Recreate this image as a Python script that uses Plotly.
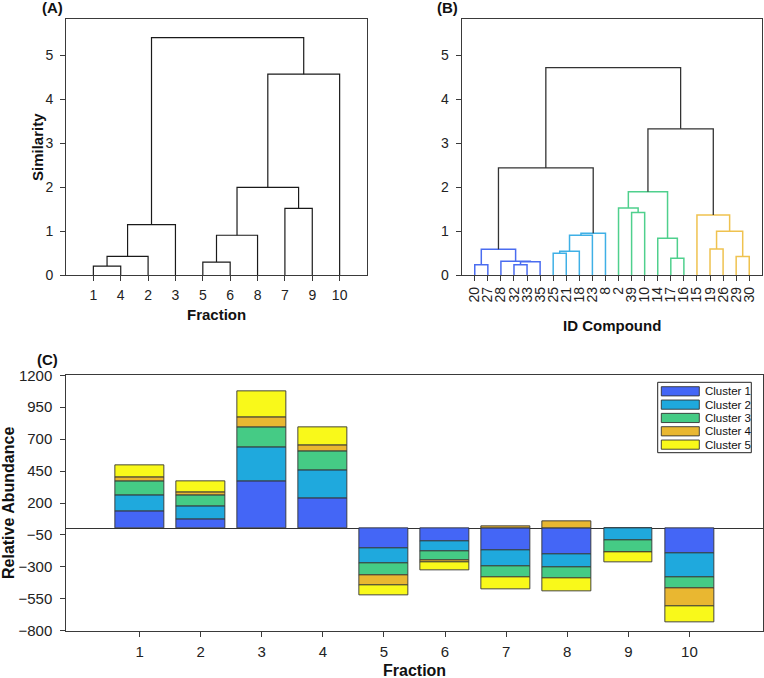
import plotly.graph_objects as go

# ---------------- DATA ----------------
# Panel A: dendrogram of fractions
A_leaf_order = ["1", "4", "2", "3", "5", "6", "8", "7", "9", "10"]
A_merges = [
    ("1", "4", 0.21),     # m0
    ("m0", "2", 0.43),    # m1
    ("m1", "3", 1.15),    # m2
    ("5", "6", 0.30),     # m3
    ("m3", "8", 0.91),    # m4
    ("7", "9", 1.52),     # m5
    ("m4", "m5", 2.00),   # m6
    ("m6", "10", 4.57),   # m7
    ("m2", "m7", 5.40),   # m8
]

# Panel B: dendrogram of compounds
B_leaf_order = ["20", "27", "28", "32", "33", "35", "25", "21", "18", "23", "8",
                "2", "39", "10", "14", "17", "16", "15", "19", "26", "29", "30"]
B_merges = [
    ("20", "27", 0.24),    # m0
    ("32", "33", 0.24),    # m1
    ("m1", "35", 0.31),    # m2
    ("28", "m2", 0.32),    # m3
    ("m0", "m3", 0.59),    # m4
    ("25", "21", 0.50),    # m5
    ("m5", "18", 0.545),   # m6
    ("m6", "23", 0.91),    # m7
    ("m7", "8", 0.955),    # m8
    ("m4", "m8", 2.44),    # m9
    ("39", "10", 1.43),    # m10
    ("2", "m10", 1.53),    # m11
    ("17", "16", 0.385),   # m12
    ("14", "m12", 0.84),   # m13
    ("m11", "m13", 1.90),  # m14
    ("19", "26", 0.60),    # m15
    ("29", "30", 0.43),    # m16
    ("m15", "m16", 1.00),  # m17
    ("15", "m17", 1.37),   # m18
    ("m14", "m18", 3.33),  # m19
    ("m9", "m19", 4.72),   # m20
]
B_merge_group = [1, 1, 1, 1, 1, 2, 2, 2, 2, 0, 3, 3, 3, 3, 3, 4, 4, 4, 4, 0, 0]

# Panel C: stacked relative abundance
fractions = [1, 2, 3, 4, 5, 6, 7, 8, 9, 10]
cluster_names = ["Cluster 1", "Cluster 2", "Cluster 3", "Cluster 4", "Cluster 5"]
cluster1 = [133, 76, 368, 238, -157, -102, -172, -198, 0, -191]
cluster2 = [125, 96, 266, 216, -117, -78, -126, -107, -89, -188]
cluster3 = [110, 86, 160, 152, -89, -68, -86, -87, -96, -91]
cluster4 = [37, 29, 75, 42, -78, -18, 21, 55, -4, -141]
cluster5 = [91, 81, 207, 148, -84, -60, -94, -96, -76, -120]

A_tick_vals = [0, 1, 2, 3, 4, 5]
C_tick_vals = [-800, -550, -300, -50, 200, 450, 700, 950, 1200]

# ---------------- STYLE ----------------
W, H = 764, 678
FONT = "Liberation Sans, Arial, sans-serif"
bar_colors = ["#4466f6", "#1fa9dd", "#45cb85", "#e9b731", "#f9f91a"]
dendro_colors = {0: "#333333", 1: "#4a6cf0", 2: "#3fb0e6", 3: "#4fd08d", 4: "#efc24f"}
AXC = "#3a3a3a"


def px(x):
    return x / W


def py(y):
    return 1 - y / H


def dendro_segments(leaf_order, merges):
    pos = {lab: i + 1 for i, lab in enumerate(leaf_order)}
    hgt = {lab: 0.0 for lab in leaf_order}
    segs = []
    for k, (a, b, h) in enumerate(merges):
        xa, xb = pos[a], pos[b]
        segs.append(([xa, xa, xb, xb], [hgt[a], h, h, hgt[b]]))
        pos["m%d" % k] = (xa + xb) / 2
        hgt["m%d" % k] = h
    return segs


fig = go.Figure()

# Panel A
for xs, ys in dendro_segments(A_leaf_order, A_merges):
    fig.add_trace(go.Scatter(x=xs, y=ys, mode="lines", xaxis="x", yaxis="y",
                             line=dict(color="#1a1a1a", width=1.2),
                             showlegend=False, hoverinfo="skip"))

# Panel B
for (xs, ys), g in zip(dendro_segments(B_leaf_order, B_merges), B_merge_group):
    fig.add_trace(go.Scatter(x=xs, y=ys, mode="lines", xaxis="x2", yaxis="y2",
                             line=dict(color=dendro_colors[g], width=1.5 if g else 1.3),
                             showlegend=False, hoverinfo="skip"))

# Panel C
for name, vals, col in zip(cluster_names, [cluster1, cluster2, cluster3, cluster4, cluster5], bar_colors):
    fig.add_trace(go.Bar(x=fractions, y=vals, name=name, xaxis="x3", yaxis="y3",
                         width=0.8, marker=dict(color=col, line=dict(color="#333333", width=0.9)),
                         showlegend=False))

tickfont_ab = dict(family=FONT, size=14, color="#222")
tickfont_c = dict(family=FONT, size=15, color="#222")
common = dict(showgrid=False, zeroline=False, showline=True, linecolor=AXC, linewidth=1,
              mirror=True, ticks="outside", ticklen=5, tickcolor=AXC, tickwidth=1,
              automargin=False)

yA_top = 5.825
fig.update_layout(
    width=W, height=H, margin=dict(l=0, r=0, t=0, b=0, pad=0), autosize=False,
    paper_bgcolor="white", plot_bgcolor="white",
    barmode="relative", bargap=0,
    font=dict(family=FONT, color="#222"),
    xaxis=dict(domain=[px(66), px(367)], anchor="y", range=[0, 11],
               tickvals=list(range(1, len(A_leaf_order) + 1)), ticktext=A_leaf_order,
               tickfont=tickfont_ab, ticklabelstandoff=2, **common),
    yaxis=dict(domain=[py(275.3), py(19)], anchor="x", range=[0, yA_top],
               tickvals=A_tick_vals, tickfont=tickfont_ab, ticklabelstandoff=4, **common),
    xaxis2=dict(domain=[px(461.7), px(762.3)], anchor="y2", range=[0, 23],
                tickvals=list(range(1, len(B_leaf_order) + 1)), ticktext=B_leaf_order,
                tickangle=-90, tickfont=tickfont_ab, **common),
    yaxis2=dict(domain=[py(275.3), py(19)], anchor="x2", range=[0, yA_top],
                tickvals=A_tick_vals, tickfont=tickfont_ab, ticklabelstandoff=4, **common),
    xaxis3=dict(domain=[px(66.3), px(762.7)], anchor="y3", range=[-0.2, 11.2],
                tickvals=fractions, tickfont=tickfont_c, ticklabelstandoff=2, **common),
    yaxis3=dict(domain=[py(630.7), py(375.3)], anchor="x3", range=[-800, 1200],
                tickvals=C_tick_vals, tickfont=tickfont_c, ticklabelstandoff=5,
                **{**common, "zeroline": True}, zerolinecolor="#333333", zerolinewidth=1),
)

annotations = []


def ann(text, x, y, size, angle=0, bold=True, xanchor="center"):
    annotations.append(dict(text=("<b>%s</b>" % text) if bold else text,
                            x=px(x), y=py(y), xref="paper", yref="paper",
                            xanchor=xanchor, yanchor="middle", showarrow=False,
                            textangle=angle, font=dict(family=FONT, size=size, color="#111")))


ann("(A)", 52, 8, 15)
ann("(B)", 447.5, 7.5, 15)
ann("(C)", 47, 359, 15)
ann("Similarity", 37, 147, 15, angle=-90)
ann("Fraction", 216.5, 315, 15)
ann("ID Compound", 612, 325, 15)
ann("Relative Abundance", 8, 503, 16, angle=-90)
ann("Fraction", 414.5, 670, 16)

# Legend (drawn manually to match wide swatches)
shapes = [dict(type="rect", xref="paper", yref="paper",
               x0=px(657.7), x1=px(751.3), y0=py(452.7), y1=py(382.3),
               line=dict(color="#222", width=1), fillcolor="white")]
for i, (name, col) in enumerate(zip(cluster_names, bar_colors)):
    yc = 391.3 + 13.33 * i
    shapes.append(dict(type="rect", xref="paper", yref="paper",
                       x0=px(661.3), x1=px(699.3), y0=py(yc + 4.6), y1=py(yc - 4.6),
                       line=dict(color="#333", width=0.9), fillcolor=col))
    ann(name, 703.3, yc, 11.5, bold=False, xanchor="left")

fig.update_layout(annotations=annotations, shapes=shapes)

post = (
    "var d=document.getElementById('{plot_id}');"
    "document.documentElement.style.margin='0';document.documentElement.style.padding='0';"
    "document.body.style.margin='0';document.body.style.padding='0';"
    "d.style.position='fixed';d.style.left='0px';d.style.top='0px';"
    "document.documentElement.style.overflow='hidden';document.body.style.overflow='hidden';"
)

fig.write_html("out.html", config={"displayModeBar": False}, post_script=post)
